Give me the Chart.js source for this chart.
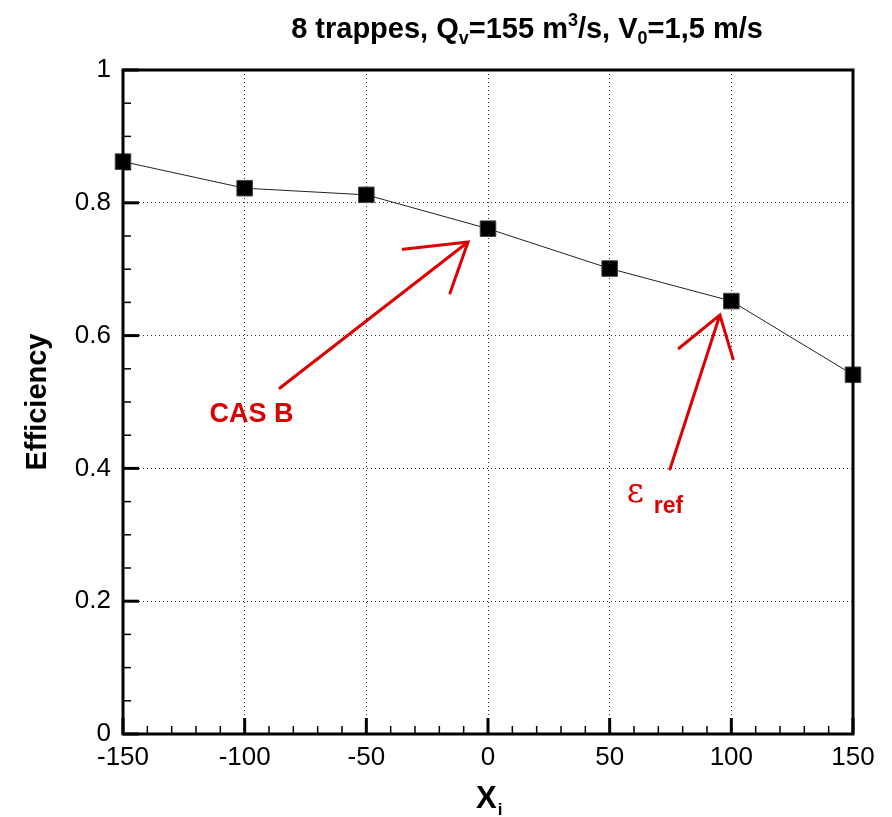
<!DOCTYPE html>
<html>
<head>
<meta charset="utf-8">
<title>Efficiency</title>
<script src="https://cdn.jsdelivr.net/npm/chart.js@4"></script>
<style>
  body { margin: 0; background: #fff; }
</style>
</head>
<body>
<canvas id="effChart" width="892" height="817"></canvas>
<script>
// Données
const xValues = [-150, -100, -50, 0, 50, 100, 150];
const efficiency = [0.862, 0.822, 0.812, 0.761, 0.701, 0.652, 0.541];
const xTicks = [-150, -100, -50, 0, 50, 100, 150];
const yTicks = [0, 0.2, 0.4, 0.6, 0.8, 1];

// Flèches rouges (coordonnées dans le repère des données) : départ, pointe, deux barbes
const arrowCasB = [[-85.5, 0.521], [-8.2, 0.741], [-34.9, 0.730], [-15.6, 0.664]];
const arrowRef = [[74.8, 0.399], [95.3, 0.631], [78.5, 0.581], [100.7, 0.565]];
const labelCasB = [-114.5, 0.47];
const labelRef = [57.0, 0.35];

const FONT = '"Liberation Sans", Arial, sans-serif';

// Dessin du titre, du cadre, des graduations intérieures et des annotations
const decorPlugin = {
    id: 'decor',
    afterDraw(chart) {
        const ctx = chart.ctx;
        const area = chart.chartArea;
        const sx = chart.scales.x;
        const sy = chart.scales.y;
        ctx.save();

        // Graduations mineures et majeures (vers l'intérieur)
        ctx.strokeStyle = '#000';
        for (let v = -150; v <= 150; v += 10) {
            const px = sx.getPixelForValue(v);
            const major = v % 50 === 0;
            ctx.lineWidth = major ? 3 : 1.5;
            ctx.beginPath();
            ctx.moveTo(px, area.bottom);
            ctx.lineTo(px, area.bottom - (major ? 16 : 8));
            ctx.stroke();
        }
        for (let i = 0; i <= 20; i++) {
            const v = i * 0.05;
            const py = sy.getPixelForValue(v);
            const major = i % 4 === 0;
            ctx.lineWidth = major ? 3 : 1.5;
            ctx.beginPath();
            ctx.moveTo(area.left, py);
            ctx.lineTo(area.left + (major ? 16 : 8), py);
            ctx.stroke();
        }

        // Cadre
        ctx.lineWidth = 3;
        ctx.strokeRect(area.left, area.top, area.right - area.left, area.bottom - area.top);

        // Titre avec indices/exposant
        const parts = [
            ['8 trappes, Q', 'n'], ['v', 'sub'], ['=155 m', 'n'], ['3', 'sup'],
            ['/s, V', 'n'], ['0', 'sub'], ['=1,5 m/s', 'n']
        ];
        const big = 'bold 29px ' + FONT;
        const small = 'bold 18px ' + FONT;
        let w = 0;
        parts.forEach(p => { ctx.font = p[1] === 'n' ? big : small; w += ctx.measureText(p[0]).width; });
        let tx = 527 - w / 2;
        const ty = 38;
        ctx.fillStyle = '#000';
        ctx.textBaseline = 'alphabetic';
        ctx.textAlign = 'left';
        parts.forEach(p => {
            ctx.font = p[1] === 'n' ? big : small;
            const dy = p[1] === 'sub' ? 6 : (p[1] === 'sup' ? -12 : 0);
            ctx.fillText(p[0], tx, ty + dy);
            tx += ctx.measureText(p[0]).width;
        });

        // Titre de l'axe X
        ctx.font = 'bold 31px ' + FONT;
        ctx.fillText('X', 476, 808);
        const xw = ctx.measureText('X').width;
        ctx.font = 'bold 17px ' + FONT;
        ctx.fillText('i', 476 + xw + 1, 815);

        // Titre de l'axe Y
        ctx.save();
        ctx.translate(46, (area.top + area.bottom) / 2);
        ctx.rotate(-Math.PI / 2);
        ctx.textAlign = 'center';
        ctx.font = 'bold 29px ' + FONT;
        ctx.fillText('Efficiency', 0, 0);
        ctx.restore();

        // Flèches rouges
        ctx.strokeStyle = '#dd0000';
        ctx.fillStyle = '#dd0000';
        ctx.lineWidth = 3;
        ctx.lineCap = 'round';
        [arrowCasB, arrowRef].forEach(a => {
            const pt = a.map(q => [sx.getPixelForValue(q[0]), sy.getPixelForValue(q[1])]);
            ctx.beginPath();
            ctx.moveTo(pt[0][0], pt[0][1]);
            ctx.lineTo(pt[1][0], pt[1][1]);
            ctx.moveTo(pt[2][0], pt[2][1]);
            ctx.lineTo(pt[1][0], pt[1][1]);
            ctx.lineTo(pt[3][0], pt[3][1]);
            ctx.stroke();
        });

        // Étiquettes
        ctx.font = 'bold 27px ' + FONT;
        ctx.fillText('CAS B', sx.getPixelForValue(labelCasB[0]), sy.getPixelForValue(labelCasB[1]));
        const ex = sx.getPixelForValue(labelRef[0]);
        const ey = sy.getPixelForValue(labelRef[1]);
        ctx.font = '33px "DejaVu Serif", serif';
        ctx.fillText('\u03B5', ex, ey);
        ctx.font = 'bold 23px ' + FONT;
        ctx.fillText('ref', ex + 27, ey + 11);

        ctx.restore();
    }
};

new Chart(document.getElementById('effChart'), {
    type: 'line',
    data: {
        datasets: [{
            data: xValues.map((x, i) => ({ x: x, y: efficiency[i] })),
            borderColor: '#222',
            borderWidth: 1,
            backgroundColor: '#000',
            pointStyle: 'rect',
            pointRadius: 11,
            pointHoverRadius: 11,
            pointBorderColor: '#444',
            pointBorderWidth: 1,
            clip: false,
            tension: 0
        }]
    },
    options: {
        responsive: false,
        animation: false,
        events: [],
        layout: { padding: { left: 0, right: 39, top: 70, bottom: 0 } },
        plugins: {
            legend: { display: false },
            tooltip: { enabled: false },
            title: { display: false }
        },
        scales: {
            x: {
                type: 'linear',
                min: -150,
                max: 150,
                afterBuildTicks: scale => { scale.ticks = xTicks.map(v => ({ value: v })); },
                afterFit: scale => { scale.height = 83; },
                border: { display: false, dash: [1, 3] },
                grid: {
                    drawTicks: false,
                    color: ctx => (ctx.tick && (ctx.tick.value === -150 || ctx.tick.value === 150)) ? 'rgba(0,0,0,0)' : '#333',
                    lineWidth: 1
                },
                ticks: {
                    padding: 8,
                    color: '#000',
                    font: { family: FONT, size: 26 },
                    maxRotation: 0,
                    callback: v => String(v)
                }
            },
            y: {
                min: 0,
                max: 1,
                afterBuildTicks: scale => { scale.ticks = yTicks.map(v => ({ value: v })); },
                afterFit: scale => { scale.width = 123; },
                border: { display: false, dash: [1, 3] },
                grid: {
                    drawTicks: false,
                    color: ctx => (ctx.tick && (ctx.tick.value === 0 || ctx.tick.value === 1)) ? 'rgba(0,0,0,0)' : '#333',
                    lineWidth: 1
                },
                ticks: {
                    padding: 12,
                    color: '#000',
                    font: { family: FONT, size: 26 },
                    callback: v => (v === 0 || v === 1) ? String(v) : v.toFixed(1)
                }
            }
        }
    },
    plugins: [decorPlugin]
});
</script>
</body>
</html>
